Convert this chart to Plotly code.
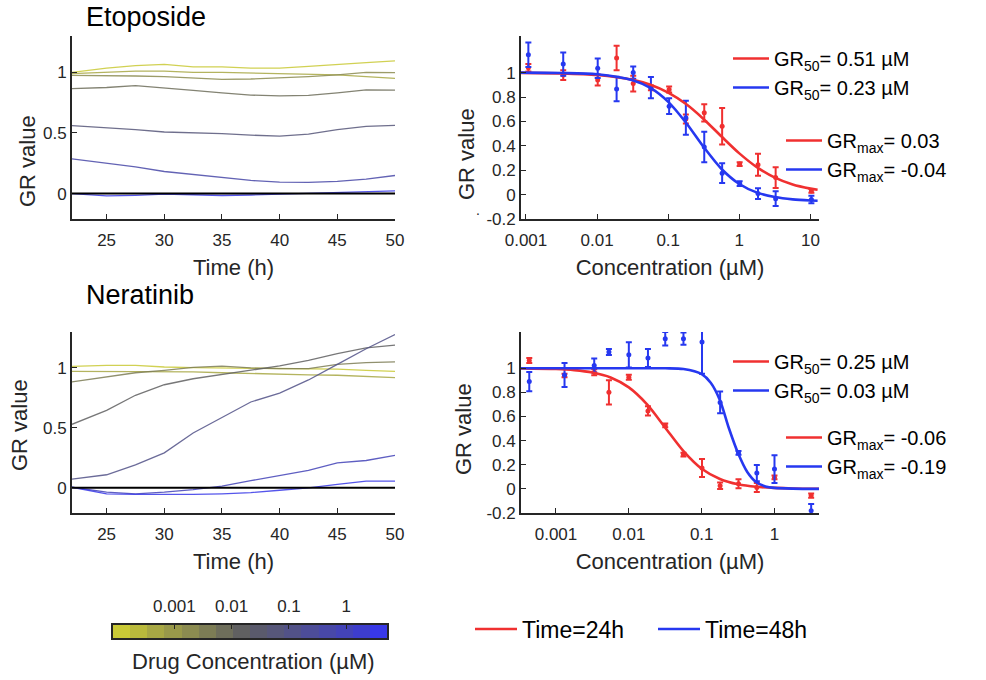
import numpy as np
import plotly.graph_objects as go

# ---------------- data ----------------
TIME_H = [22, 25, 27.5, 30, 32.5, 35, 37.5, 40, 42.5, 45, 47.5, 50]

ETO_TIMECOURSE = [
    [1.0, 1.035, 1.055, 1.066, 1.045, 1.045, 1.035, 1.035, 1.05, 1.068, 1.08, 1.094],
    [0.99, 1.0, 1.01, 1.01, 1.0, 1.0, 0.995, 0.99, 0.98, 0.98, 0.965, 0.95],
    [0.975, 0.975, 0.97, 0.965, 0.955, 0.942, 0.945, 0.952, 0.965, 0.98, 1.0, 0.997],
    [0.865, 0.875, 0.89, 0.873, 0.852, 0.83, 0.812, 0.806, 0.81, 0.83, 0.855, 0.853],
    [0.561, 0.545, 0.527, 0.508, 0.503, 0.495, 0.482, 0.474, 0.49, 0.528, 0.555, 0.563],
    [0.287, 0.25, 0.22, 0.182, 0.158, 0.138, 0.108, 0.095, 0.093, 0.1, 0.119, 0.149],
    [0.0, -0.02, -0.015, -0.005, -0.01, -0.016, -0.012, -0.005, 0.0, 0.01, 0.018, 0.022],
]

NER_TIMECOURSE = [
    [1.014, 1.022, 1.022, 1.008, 1.003, 1.0, 0.995, 0.99, 0.99, 0.99, 0.98, 0.972],
    [0.972, 0.972, 0.972, 0.972, 0.968, 0.96, 0.953, 0.947, 0.943, 0.939, 0.927, 0.919],
    [0.883, 0.925, 0.96, 0.98, 1.005, 1.015, 1.0, 0.994, 0.995, 1.03, 1.045, 1.05],
    [0.53, 0.646, 0.772, 0.86, 0.91, 0.947, 0.978, 1.017, 1.064, 1.12, 1.167, 1.19],
    [0.072, 0.109, 0.192, 0.292, 0.457, 0.59, 0.716, 0.79, 0.9, 1.03, 1.16, 1.279],
    [0.005, -0.036, -0.05, -0.036, -0.015, 0.014, 0.06, 0.1, 0.145, 0.209, 0.228, 0.27],
    [0.005, -0.05, -0.055, -0.058, -0.055, -0.05, -0.04, -0.02, 0.0, 0.028, 0.056, 0.056],
]

# Etoposide dose response (uM)
ETO_CONC = [0.00108, 0.00334, 0.0102, 0.0188, 0.0322, 0.0571, 0.103, 0.177, 0.321,
            0.573, 1.01, 1.83, 3.24, 10.3]
ETO_24H = [1.04, 0.98, 0.94, 1.12, 0.91, 0.875, 0.862, 0.62, 0.67, 0.56, 0.25, 0.245, 0.14, 0.03]
ETO_24H_ERR = [0.03, 0.04, 0.045, 0.1, 0.065, 0.02, 0.025, 0.037, 0.07, 0.15, 0.015, 0.09, 0.085, 0.015]
ETO_48H = [1.146, 1.07, 1.036, 0.865, 1.0, 0.876, 0.725, 0.63, 0.39, 0.176, 0.09, 0.008, -0.033, -0.04]
ETO_48H_ERR = [0.1, 0.095, 0.08, 0.1, 0.05, 0.087, 0.065, 0.14, 0.125, 0.08, 0.02, 0.045, 0.06, 0.03]

ETO_FIT_CONC = [0.00085, 0.00316, 0.01, 0.0316, 0.0562, 0.1, 0.178, 0.316, 0.562, 1.0,
                1.78, 3.16, 5.62, 10.0, 12.6]
ETO_FIT_24H = [0.998, 0.994, 0.981, 0.942, 0.901, 0.836, 0.742, 0.618, 0.476, 0.338,
               0.223, 0.139, 0.083, 0.049, 0.039]
ETO_FIT_48H = [1.0, 0.997, 0.986, 0.937, 0.874, 0.76, 0.589, 0.389, 0.21, 0.087,
               0.016, -0.02, -0.039, -0.048, -0.05]

# Neratinib dose response (uM)
NER_CONC = [0.00043, 0.00131, 0.00335, 0.00533, 0.01, 0.0183, 0.0316, 0.0562, 0.101,
            0.179, 0.32, 0.571, 0.998, 3.18]
NER_24H = [1.064, 0.939, 0.967, 0.8, 0.925, 0.646, 0.526, 0.284, 0.173, 0.025, 0.042, 0.011, 0.095, -0.056]
NER_24H_ERR = [0.02, 0.015, 0.025, 0.1, 0.02, 0.038, 0.015, 0.015, 0.075, 0.027, 0.037, 0.037, 0.015, 0.017]
NER_48H = [0.889, 0.944, 1.022, 1.134, 1.111, 1.084, 1.245, 1.245, 1.217, 0.716, 0.298, 0.131, 0.164, -0.181]
NER_48H_ERR = [0.08, 0.1, 0.058, 0.025, 0.105, 0.075, 0.056, 0.05, 0.264, 0.09, 0.015, 0.067, 0.115, 0.056]

NER_FIT24_CONC = [0.00033, 0.001, 0.00178, 0.00316, 0.00562, 0.01, 0.0178, 0.0316, 0.0562,
                  0.1, 0.178, 0.316, 0.562, 1.0, 1.78, 4.07]
NER_FIT_24H = [0.998, 0.993, 0.984, 0.964, 0.923, 0.841, 0.70, 0.507, 0.313, 0.167,
               0.082, 0.038, 0.017, 0.008, 0.003, 0.001]
NER_FIT48_CONC = [0.00033, 0.01, 0.0316, 0.0562, 0.1, 0.133, 0.178, 0.237, 0.316, 0.422,
                  0.562, 0.75, 1.0, 1.78, 4.07]
NER_FIT_48H = [1.0, 1.0, 0.999, 0.993, 0.951, 0.88, 0.735, 0.5, 0.295, 0.14,
               0.055, 0.02, 0.008, 0.002, 0.0]

LEGEND_ETO_GR50 = ["GR<sub>50</sub>= 0.51 µM", "GR<sub>50</sub>= 0.23 µM"]
LEGEND_ETO_GRMAX = ["GR<sub>max</sub>= 0.03", "GR<sub>max</sub>= -0.04"]
LEGEND_NER_GR50 = ["GR<sub>50</sub>= 0.25 µM", "GR<sub>50</sub>= 0.03 µM"]
LEGEND_NER_GRMAX = ["GR<sub>max</sub>= -0.06", "GR<sub>max</sub>= -0.19"]
TIME_LABELS = ["Time=24h", "Time=48h"]

COLORBAR_TICKS = [0.001, 0.01, 0.1, 1]
COLORBAR_TICKTEXT = ["0.001", "0.01", "0.1", "1"]
COLORBAR_LOG_RANGE = [-4.07, 0.71]

# ---------------- styles ----------------
CMAP = ["#caca36", "#baba3c", "#a8a844", "#99994a", "#8b8b50", "#7d7d55", "#6e6e5b", "#606061",
        "#5a5a6c", "#57577a", "#525288", "#4d4d98", "#4848a8", "#4343b8", "#3d3dcc", "#3838e8"]
ETO_LINE_IDX = [0, 2, 4, 6, 9, 12, 15]
NER_LINE_IDX = [0, 2, 5, 7, 10, 13, 15]
RED = "#f03030"
BLUE = "#2638f0"
AX = "#262626"
FONT = "Liberation Sans, Arial, sans-serif"
W, H = 986, 680


def fx(p):
    return p / W


def fy(p):
    return 1 - p / H


fig = go.Figure()

# time courses
for vals, idx in zip(ETO_TIMECOURSE, ETO_LINE_IDX):
    fig.add_trace(go.Scatter(x=TIME_H, y=vals, mode="lines", line=dict(color=CMAP[idx], width=1.3),
                             opacity=0.85, showlegend=False, xaxis="x", yaxis="y"))
for vals, idx in zip(NER_TIMECOURSE, NER_LINE_IDX):
    fig.add_trace(go.Scatter(x=TIME_H, y=vals, mode="lines", line=dict(color=CMAP[idx], width=1.3),
                             opacity=0.85, showlegend=False, xaxis="x3", yaxis="y3"))


def dose_panel(xa, ya, conc, y24, e24, y48, e48, fx24, fy24, fx48, fy48, gr50, grmax, lg50, lgmax):
    for c, yv, ev, col in [(conc, y24, e24, RED), (conc, y48, e48, BLUE)]:
        fig.add_trace(go.Scatter(x=c, y=yv, mode="markers",
                                 marker=dict(color=col, size=5),
                                 error_y=dict(type="data", array=ev, color=col, thickness=2, width=3),
                                 showlegend=False, xaxis=xa, yaxis=ya))
    fig.add_trace(go.Scatter(x=fx24, y=fy24, mode="lines", line=dict(color=RED, width=2.6, shape="spline", smoothing=0.8),
                             name=gr50[0], legend=lg50, xaxis=xa, yaxis=ya))
    fig.add_trace(go.Scatter(x=fx48, y=fy48, mode="lines", line=dict(color=BLUE, width=2.6, shape="spline", smoothing=0.8),
                             name=gr50[1], legend=lg50, xaxis=xa, yaxis=ya))
    for name, col in zip(grmax, [RED, BLUE]):
        fig.add_trace(go.Scatter(x=[None], y=[None], mode="lines", line=dict(color=col, width=2.6),
                                 name=name, legend=lgmax, xaxis=xa, yaxis=ya))


dose_panel("x2", "y2", ETO_CONC, ETO_24H, ETO_24H_ERR, ETO_48H, ETO_48H_ERR,
           ETO_FIT_CONC, ETO_FIT_24H, ETO_FIT_CONC, ETO_FIT_48H,
           LEGEND_ETO_GR50, LEGEND_ETO_GRMAX, "legend2", "legend3")
dose_panel("x4", "y4", NER_CONC, NER_24H, NER_24H_ERR, NER_48H, NER_48H_ERR,
           NER_FIT24_CONC, NER_FIT_24H, NER_FIT48_CONC, NER_FIT_48H,
           LEGEND_NER_GR50, LEGEND_NER_GRMAX, "legend4", "legend5")

# bottom legend entries
for name, col in zip(TIME_LABELS, [RED, BLUE]):
    fig.add_trace(go.Scatter(x=[None], y=[None], mode="lines", line=dict(color=col, width=2.6),
                             name=name, legend="legend", xaxis="x2", yaxis="y2"))

# color scale bar
n = len(CMAP)
edges = np.linspace(COLORBAR_LOG_RANGE[0], COLORBAR_LOG_RANGE[1], n + 1)
centers = (edges[:-1] + edges[1:]) / 2
cs = []
for i, c in enumerate(CMAP):
    cs.append([i / n, c])
    cs.append([(i + 1) / n, c])
fig.add_trace(go.Heatmap(x=centers, y=[0], z=[list(range(n))], colorscale=cs, zmin=-0.5, zmax=n - 0.5,
                         showscale=False, xaxis="x5", yaxis="y5", hoverinfo="skip"))

axis_common = dict(showline=True, linecolor=AX, linewidth=1.8, ticks="inside", ticklen=5, tickwidth=1.4,
                   tickcolor=AX, showgrid=False, zeroline=False, automargin=False,
                   tickfont=dict(size=17, color=AX, family=FONT))

TOP = [fy(219), fy(36)]
BOT = [fy(513), fy(332)]
LEFTX = [fx(72), fx(395)]
RIGHTX = [fx(521), fx(819)]

xt_title = lambda t: dict(text=t, font=dict(size=22, color=AX, family=FONT), standoff=10)
left_y = dict(range=[-0.21, 1.3], tickvals=[0, 0.5, 1], ticktext=["0", "0.5", "1"])
right_y = dict(range=[-0.2, 1.3], tickvals=[-0.2, 0, 0.2, 0.4, 0.6, 0.8, 1],
               ticktext=["-0.2", "0", "0.2", "0.4", "0.6", "0.8", "1"])
time_x = dict(range=[22, 50], tickvals=[25, 30, 35, 40, 45, 50])
xlab = dict(ticklabelstandoff=5)

leg_font = dict(size=20, color="black", family=FONT)
fig.update_layout(
    width=W, height=H, margin=dict(l=0, r=0, t=0, b=0),
    paper_bgcolor="white", plot_bgcolor="white",
    font=dict(family=FONT, color=AX),
    xaxis=dict(domain=LEFTX, anchor="y", title=xt_title("Time (h)"), **time_x, **xlab, **axis_common),
    yaxis=dict(domain=TOP, anchor="x", **left_y, **axis_common),
    xaxis2=dict(domain=RIGHTX, anchor="y2", type="log", range=[-3.07, 1.12],
                tickvals=[0.001, 0.01, 0.1, 1, 10], ticktext=["0.001", "0.01", "0.1", "1", "10"],
                title=xt_title("Concentration (µM)"), **xlab, **axis_common),
    yaxis2=dict(domain=TOP, anchor="x2", **right_y, **axis_common),
    xaxis3=dict(domain=LEFTX, anchor="y3", title=xt_title("Time (h)"), **time_x, **xlab, **axis_common),
    yaxis3=dict(domain=BOT, anchor="x3", **left_y, **axis_common),
    xaxis4=dict(domain=RIGHTX, anchor="y4", type="log", range=[-3.48, 0.61],
                tickvals=[0.001, 0.01, 0.1, 1], ticktext=["0.001", "0.01", "0.1", "1"],
                title=xt_title("Concentration (µM)"), **xlab, **axis_common),
    yaxis4=dict(domain=BOT, anchor="x4", **right_y, **axis_common),
    xaxis5=dict(domain=[fx(113), fx(387)], anchor="y5", side="top", range=COLORBAR_LOG_RANGE,
                tickvals=list(np.log10(COLORBAR_TICKS)), ticktext=COLORBAR_TICKTEXT,
                showline=True, mirror=True, linecolor=AX, linewidth=2, ticks="inside", ticklen=4,
                tickwidth=1.4, tickcolor=AX, showgrid=False, zeroline=False, automargin=False,
                ticklabelstandoff=4, tickfont=dict(size=17, color=AX, family=FONT)),
    yaxis5=dict(domain=[fy(638), fy(625)], anchor="x5", range=[-0.5, 0.5], showline=True, mirror=True,
                linecolor=AX, linewidth=2, showticklabels=False, ticks="", showgrid=False,
                zeroline=False, automargin=False),
    legend=dict(orientation="h", x=fx(470), y=fy(629), xanchor="left", yanchor="middle",
                font=dict(size=23, color="black", family=FONT), bgcolor="rgba(0,0,0,0)",
                itemwidth=42, entrywidth=126, entrywidthmode="pixels"),
    legend2=dict(x=fx(728), y=fy(39), xanchor="left", yanchor="top", itemwidth=36,
                 font=leg_font, bgcolor="rgba(0,0,0,0)"),
    legend3=dict(x=fx(781), y=fy(121), xanchor="left", yanchor="top", itemwidth=36,
                 font=leg_font, bgcolor="rgba(0,0,0,0)"),
    legend4=dict(x=fx(728), y=fy(342), xanchor="left", yanchor="top", itemwidth=36,
                 font=leg_font, bgcolor="rgba(0,0,0,0)"),
    legend5=dict(x=fx(781), y=fy(418), xanchor="left", yanchor="top", itemwidth=36,
                 font=leg_font, bgcolor="rgba(0,0,0,0)"),
)

# zero reference lines in time-course panels
for xr, yr in [("x domain", "y"), ("x3 domain", "y3")]:
    fig.add_shape(type="line", xref=xr, yref=yr, x0=0, x1=1, y0=0, y1=0,
                  line=dict(color="black", width=2))

ann = [
    dict(text="Etoposide", x=fx(84), y=fy(17), xanchor="left", yanchor="middle", font=dict(size=27, color="black")),
    dict(text="Neratinib", x=fx(84), y=fy(295), xanchor="left", yanchor="middle", font=dict(size=27, color="black")),
    dict(text="GR value", x=fx(27), y=fy(161), textangle=-90, xanchor="center", yanchor="middle", font=dict(size=22, color=AX)),
    dict(text="GR value", x=fx(467), y=fy(154), textangle=-90, xanchor="center", yanchor="middle", font=dict(size=22, color=AX)),
    dict(text="GR value", x=fx(19), y=fy(425), textangle=-90, xanchor="center", yanchor="middle", font=dict(size=22, color=AX)),
    dict(text="GR value", x=fx(463), y=fy(429), textangle=-90, xanchor="center", yanchor="middle", font=dict(size=22, color=AX)),
    dict(text=".", x=fx(478), y=fy(210), xanchor="center", yanchor="middle", font=dict(size=14, color=AX)),
    dict(text="Drug Concentration (µM)", x=fx(254), y=fy(661), xanchor="center", yanchor="middle", font=dict(size=22, color=AX)),
]
for a in ann:
    a.update(xref="paper", yref="paper", showarrow=False)
    a["font"]["family"] = FONT
fig.update_layout(annotations=ann)

fig.write_html("out.html", config={"displayModeBar": False},
               post_script="document.body.style.margin='0';document.body.style.overflow='hidden';")
